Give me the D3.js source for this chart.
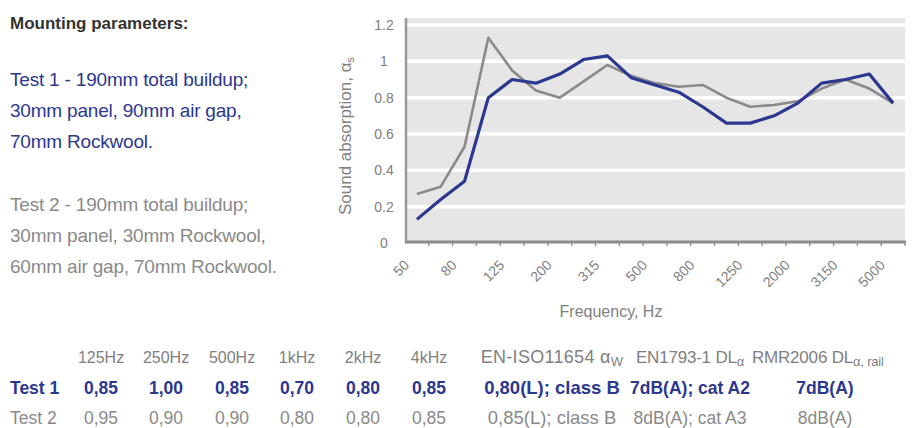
<!DOCTYPE html>
<html>
<head>
<meta charset="utf-8">
<script src="https://cdn.jsdelivr.net/npm/d3@7"></script>
<style>
  body { margin: 0; background: #fff; }
  svg { display: block; font-family: "Liberation Sans", Arial, Helvetica, sans-serif; }
</style>
</head>
<body>
<svg id="chart" width="917" height="428"></svg>
<script>
// One-third-octave band centre frequencies (Hz)
const bands = ["50","63","80","100","125","160","200","250","315","400","500","630","800","1000","1250","1600","2000","2500","3150","4000","5000"];
// Bands that carry a tick label
const tickLabels = ["50","80","125","200","315","500","800","1250","2000","3150","5000"];
// Sound absorption coefficient per band
const test1 = [0.13,0.24,0.34,0.80,0.90,0.88,0.93,1.01,1.03,0.91,0.87,0.83,0.75,0.66,0.66,0.70,0.77,0.88,0.90,0.93,0.77];
const test2 = [0.27,0.31,0.53,1.13,0.95,0.84,0.80,0.89,0.98,0.92,0.88,0.86,0.87,0.80,0.75,0.76,0.78,0.85,0.90,0.85,0.77];
const yTicks = [0, 0.2, 0.4, 0.6, 0.8, 1, 1.2];

// Summary table
const octaveCols = ["125Hz","250Hz","500Hz","1kHz","2kHz","4kHz"];
const test1Octave = ["0,85","1,00","0,85","0,70","0,80","0,85"];
const test2Octave = ["0,95","0,90","0,90","0,80","0,80","0,85"];
const test1Ratings = ["0,80(L); class B","7dB(A); cat A2","7dB(A)"];
const test2Ratings = ["0,85(L); class B","8dB(A); cat A3","8dB(A)"];

const BLUE = "#2c3790";
const GREY = "#8a8a8a";
const TXT = "#808080";

const svg = d3.select("#chart");

// ---- plot area ----
const x = d3.scaleBand().domain(bands).range([405, 905]);
const y = d3.scaleLinear().domain([0, 1.2]).range([243, 25]);
const cx = b => x(b) + x.bandwidth() / 2;

svg.append("rect")
  .attr("x", 405).attr("y", 18)
  .attr("width", 500).attr("height", y(0) - 18)
  .attr("fill", "#e6e6e6");

// horizontal gridlines
svg.append("g").selectAll("line")
  .data(yTicks.filter(d => d > 0))
  .join("line")
  .attr("x1", 407).attr("x2", 905)
  .attr("y1", d => y(d)).attr("y2", d => y(d))
  .attr("stroke", "#fff").attr("stroke-width", 3.5);

// y axis (labels only, the spine is drawn separately)
const yAxis = svg.append("g")
  .attr("transform", "translate(384,0)")
  .call(d3.axisLeft(y).tickValues(yTicks).tickSize(0).tickPadding(0).tickFormat(d3.format("~g")));
yAxis.select(".domain").remove();
yAxis.selectAll("text")
  .attr("text-anchor", "middle")
  .attr("fill", TXT)
  .attr("font-size", 14)
  .attr("font-family", "Liberation Sans, Arial, sans-serif");

// left spine
svg.append("line")
  .attr("x1", 406).attr("x2", 406).attr("y1", 18).attr("y2", 243)
  .attr("stroke", "#9a9a9a").attr("stroke-width", 2.5);

// x axis: ticks at band boundaries, labels on every other band
const bounds = bands.map(b => x(b)).slice(1).concat([905]);
svg.append("g").selectAll("line")
  .data(bounds)
  .join("line")
  .attr("x1", d => d).attr("x2", d => d)
  .attr("y1", 242).attr("y2", 246)
  .attr("stroke", "#9a9a9a").attr("stroke-width", 1.5);

svg.append("line")
  .attr("x1", 405).attr("x2", 906).attr("y1", 242).attr("y2", 242)
  .attr("stroke", "#8c8c8c").attr("stroke-width", 3);

svg.append("g").selectAll("text")
  .data(tickLabels)
  .join("text")
  .attr("transform", d => `translate(${cx(d) - 7},266) rotate(-45)`)
  .attr("text-anchor", "end")
  .attr("fill", TXT)
  .attr("font-size", 14)
  .text(d => d);

// axis titles
svg.append("text")
  .attr("x", 611).attr("y", 317)
  .attr("text-anchor", "middle")
  .attr("fill", TXT).attr("font-size", 16)
  .text("Frequency, Hz");

const yTitle = svg.append("text")
  .attr("transform", "translate(351,136) rotate(-90)")
  .attr("text-anchor", "middle")
  .attr("fill", TXT).attr("font-size", 17);
yTitle.append("tspan").text("Sound absorption, α");
yTitle.append("tspan").attr("font-size", 11).attr("dy", 3).text("s");

// series lines
const line = d3.line().x((d, i) => cx(bands[i])).y(d => y(d));
svg.append("path").datum(test2)
  .attr("d", line).attr("fill", "none")
  .attr("stroke", GREY).attr("stroke-width", 2.6).attr("stroke-linejoin", "round");
svg.append("path").datum(test1)
  .attr("d", line).attr("fill", "none")
  .attr("stroke", BLUE).attr("stroke-width", 3.2).attr("stroke-linejoin", "round");

// ---- mounting description ----
svg.append("text")
  .attr("x", 10).attr("y", 29)
  .attr("font-size", 17).attr("font-weight", "bold").attr("fill", "#333")
  .text("Mounting parameters:");

const t1Lines = ["Test 1 - 190mm total buildup;", "30mm panel, 90mm air gap,", "70mm Rockwool."];
const t2Lines = ["Test 2 - 190mm total buildup;", "30mm panel, 30mm Rockwool,", "60mm air gap, 70mm Rockwool."];
svg.append("g").selectAll("text").data(t1Lines).join("text")
  .attr("x", 10).attr("y", (d, i) => 86 + i * 31)
  .attr("font-size", 19).attr("fill", BLUE).attr("letter-spacing", -0.2).text(d => d);
svg.append("g").selectAll("text").data(t2Lines).join("text")
  .attr("x", 10).attr("y", (d, i) => 211 + i * 31)
  .attr("font-size", 19).attr("fill", GREY).attr("letter-spacing", -0.2).text(d => d);

// ---- summary table ----
const colX = [101, 166, 232, 297, 363, 429];
const ratingX = [552, 690, 825];

svg.append("g").selectAll("text").data(octaveCols).join("text")
  .attr("x", (d, i) => colX[i]).attr("y", 363)
  .attr("text-anchor", "middle").attr("font-size", 16).attr("fill", TXT)
  .text(d => d);

const headers = [["EN-ISO11654 α", "W"], ["EN1793-1 DL", "α"], ["RMR2006 DL", "α, rail"]];
headers.forEach((h, i) => {
  const t = svg.append("text")
    .attr("x", i === 2 ? 752 : ratingX[i]).attr("y", 363)
    .attr("text-anchor", i === 2 ? "start" : "middle")
    .attr("font-size", i === 0 ? 18 : 17).attr("fill", TXT)
    .attr("letter-spacing", i === 0 ? 0.3 : -0.2);
  t.append("tspan").text(h[0]);
  t.append("tspan").attr("font-size", 13).attr("dy", 3).text(h[1]);
});

function row(label, vals, ratings, yPos, color, weight) {
  const g = svg.append("g").attr("fill", color).attr("font-weight", weight).attr("font-size", 17.5);
  g.append("text").attr("x", 10).attr("y", yPos).text(label);
  g.selectAll("text.v").data(vals).join("text").attr("class", "v")
    .attr("x", (d, i) => colX[i]).attr("y", yPos).attr("text-anchor", "middle").text(d => d);
  g.selectAll("text.r").data(ratings).join("text").attr("class", "r")
    .attr("x", (d, i) => ratingX[i]).attr("y", yPos).attr("text-anchor", "middle")
    .attr("font-size", (d, i) => i === 0 ? 18.5 : 17.5).text(d => d);
}
row("Test 1", test1Octave, test1Ratings, 394, BLUE, "bold");
row("Test 2", test2Octave, test2Ratings, 424, GREY, "normal");
</script>
</body>
</html>
